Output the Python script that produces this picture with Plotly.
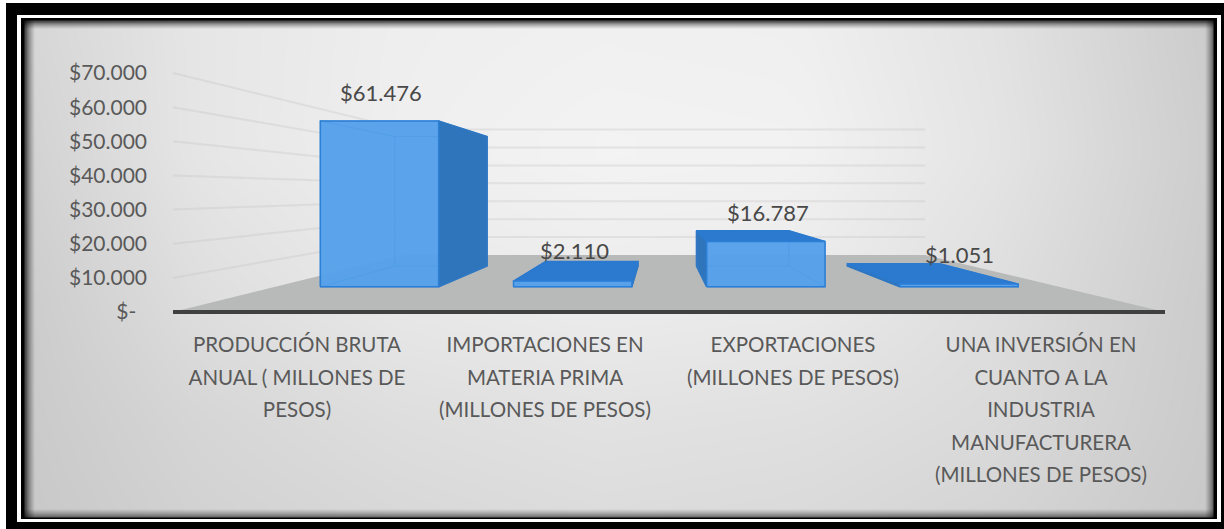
import numpy as np
import plotly.graph_objects as go

# Chart content
categories = [
    ["PRODUCCIÓN BRUTA", "ANUAL ( MILLONES DE", "PESOS)"],
    ["IMPORTACIONES EN", "MATERIA PRIMA", "(MILLONES DE PESOS)"],
    ["EXPORTACIONES", "(MILLONES DE PESOS)"],
    ["UNA INVERSIÓN EN", "CUANTO A LA", "INDUSTRIA", "MANUFACTURERA", "(MILLONES DE PESOS)"],
]
values = [61476, 2110, 16787, 1051]
y_ticks = [0, 10000, 20000, 30000, 40000, 50000, 60000, 70000]

W, H = 1224, 529
FONT = "Lato"


def money(v):
    return "$" + f"{v:,}".replace(",", ".")


# Axis scales: one category slot is 248 px, 10.000 pesos are 34.14 px on the front plane
PX_PER_CAT = 248.0
PX_PER_VAL = 0.003414
X0_PX, Y0_PX = 297.0, 312.0
x_range = [(0 - X0_PX) / PX_PER_CAT, (W - X0_PX) / PX_PER_CAT]
y_range = [(Y0_PX - H) / PX_PER_VAL, Y0_PX / PX_PER_VAL]


def xpx(p):
    return (np.asarray(p, dtype=float) - X0_PX) / PX_PER_CAT


def ypx(p):
    return (Y0_PX - np.asarray(p, dtype=float)) / PX_PER_VAL


# Perspective of the 3-D box: everything recedes to one vanishing point
VX, VV = float(xpx(660)), float(ypx(192))
S_FLOOR_BACK = 0.525
S_BAR_FRONT, S_BAR_BACK = 0.79, 0.617
BAR_START, BAR_STEP, BAR_HALF = 0.032, 0.986, 0.302


def proj(x, v, s):
    return VX + (x - VX) * s, VV + (v - VV) * s


def poly(points):
    xs = [p[0] for p in points] + [points[0][0]]
    ys = [p[1] for p in points] + [points[0][1]]
    return xs, ys


class Faces:
    """Collects polygons that share one fill, separated by gaps."""

    def __init__(self):
        self.x, self.y = [], []

    def add(self, points):
        xs, ys = poly(points)
        self.x += xs + [None]
        self.y += ys + [None]


fig = go.Figure()

# Panel background: soft grey gradient with a dark inner shadow along the edges
grid_x = [25, 200, 400, 600, 800, 1000, 1213]
grid_y = [21, 150, 300, 420, 517]
grid_grey = [
    [0xd6, 0xe6, 0xee, 0xf0, 0xef, 0xe2, 0xcb],
    [0xd2, 0xe6, 0xef, 0xf3, 0xf2, 0xe4, 0xcd],
    [0xcc, 0xde, 0xe8, 0xec, 0xea, 0xde, 0xcb],
    [0xca, 0xd6, 0xde, 0xe2, 0xe0, 0xda, 0xca],
    [0xc8, 0xd2, 0xd8, 0xdc, 0xda, 0xd4, 0xc8],
]
px_x = np.unique(np.concatenate([np.arange(25, 40, 1.0), np.linspace(40, 1198, 40), np.arange(1199, 1214, 1.0)]))
px_y = np.unique(np.concatenate([np.arange(21, 34, 1.0), np.linspace(34, 504, 24), np.arange(505, 518, 1.0)]))
base = np.array([[np.interp(x, grid_x, row) for x in px_x] for row in grid_grey])
base = np.array([[np.interp(y, grid_y, base[:, j]) for j in range(len(px_x))] for y in px_y])


def shade(dist, span):
    return 0.35 + 0.65 * np.clip(dist / span, 0, 1) ** 0.7


edge_x = shade(px_x - 25, 9) * shade(1213 - px_x, 9)
edge_y = shade(px_y - 21, 7) * shade(517 - px_y, 9)
fig.add_trace(go.Heatmap(
    x=xpx(px_x), y=ypx(px_y), z=base * np.outer(edge_y, edge_x),
    zmin=0, zmax=255, colorscale=[[0, "rgb(0,0,0)"], [1, "rgb(255,255,255)"]],
    zsmooth="best", showscale=False, hoverinfo="skip",
))

# Floor of the 3-D box
fx, fy = poly([proj(-0.5, 0, 1), proj(3.5, 0, 1), proj(3.5, 0, S_FLOOR_BACK), proj(-0.5, 0, S_FLOOR_BACK)])
fig.add_trace(go.Scatter(x=fx, y=fy, mode="lines", fill="toself", fillcolor="#b8b9b9",
                         line=dict(width=0), hoverinfo="skip", showlegend=False))

# Wall gridlines, running along the left wall and then across the back wall
gx, gy = [], []
for t in y_ticks[1:]:
    a = proj(-0.5, t, 1)
    b = proj(-0.5, t, S_FLOOR_BACK)
    c = proj(3.5, t, S_FLOOR_BACK)
    gx += [a[0], b[0], c[0], None]
    gy += [a[1], b[1], c[1], None]
fig.add_trace(go.Scatter(x=gx, y=gy, mode="lines", line=dict(color="rgba(196,188,188,0.3)", width=2),
                         hoverinfo="skip", showlegend=False))

# Front edge of the floor
fig.add_trace(go.Scatter(x=[-0.5, 3.5], y=[0, 0], mode="lines", line=dict(color="#404040", width=4),
                         hoverinfo="skip", showlegend=False))

# Bars as translucent boxes
inner, side, top, front = Faces(), Faces(), Faces(), Faces()
label_anchor = []
for i, v in enumerate(values):
    c = BAR_START + i * BAR_STEP
    x0, x1 = c - BAR_HALF, c + BAR_HALF
    f, b = S_BAR_FRONT, S_BAR_BACK
    inner.add([proj(x0, 0, b), proj(x1, 0, b), proj(x1, v, b), proj(x0, v, b)])
    inner.add([proj(x0, 0, f), proj(x1, 0, f), proj(x1, 0, b), proj(x0, 0, b)])
    left_face = [proj(x0, 0, f), proj(x0, 0, b), proj(x0, v, b), proj(x0, v, f)]
    right_face = [proj(x1, 0, f), proj(x1, 0, b), proj(x1, v, b), proj(x1, v, f)]
    top_face = [proj(x0, v, f), proj(x1, v, f), proj(x1, v, b), proj(x0, v, b)]
    if x1 < VX:
        side.add(right_face)
        inner.add(left_face)
    else:
        side.add(left_face)
        inner.add(right_face)
    if v < VV:
        top.add(top_face)
    else:
        inner.add(top_face)
    front.add([proj(x0, 0, f), proj(x1, 0, f), proj(x1, v, f), proj(x0, v, f)])
    label_anchor.append(proj(c, v, 0.7))

for faces, fill, edge, width in [
    (inner, "rgba(70,150,230,0.30)", "rgba(44,120,200,0.75)", 1),
    (side, "#2f75bb", "#2f78c4", 1.5),
    (top, "#2b7ad0", "#2b7ad0", 1.5),
    (front, "rgba(84,160,235,0.93)", "#2c7fd6", 1.5),
]:
    fig.add_trace(go.Scatter(x=faces.x, y=faces.y, mode="lines", fill="toself", fillcolor=fill,
                             line=dict(color=edge, width=width), hoverinfo="skip", showlegend=False))

# Value labels sit above each bar
label_shift = [(-30, -37), (-8, -20), (14, -23), (35, -19)]
annotations = [
    dict(x=a[0], y=a[1], text=money(v), showarrow=False, xanchor="center", yanchor="middle",
         xshift=s[0], yshift=-s[1], font=dict(family=FONT, size=22, color="#484848"))
    for a, v, s in zip(label_anchor, values, label_shift)
]


# Nested rectangles of the picture frame, in paper coordinates
def frame(x0, y0, x1, y1, color):
    return dict(type="rect", xref="paper", yref="paper", layer="below",
                x0=x0 / W, x1=x1 / W, y0=1 - y0 / H, y1=1 - y1 / H,
                fillcolor=color, line=dict(width=0))


shapes = [
    frame(6, 3, W, H, "#000000"),
    frame(17, 15, 1221, 522, "#ffffff"),
    frame(21, 18, 1217, 519, "#000000"),
]


def tick_label(lines):
    return "<br>".join(f"<span style='font-size:20.5px'>{ln}</span>" for ln in lines)


fig.update_layout(
    width=W, height=H, margin=dict(l=0, r=0, t=0, b=0), autosize=False,
    paper_bgcolor="#ffffff", plot_bgcolor="#ffffff", showlegend=False,
    font=dict(family=FONT), shapes=shapes, annotations=annotations,
    xaxis=dict(
        domain=[0, 1], range=x_range, anchor="free", position=1 - 326 / H,
        tickmode="array", tickvals=[0, 1, 2, 3], ticktext=[tick_label(c) for c in categories],
        tickangle=0, ticks="", showgrid=False, zeroline=False, showline=False,
        tickfont=dict(family=FONT, size=25, color="#595959"),
    ),
    yaxis=dict(
        domain=[0, 1], range=y_range, anchor="free", position=147 / W,
        tickmode="array", tickvals=y_ticks,
        ticktext=["$-\u00a0\u00a0" if t == 0 else money(t) for t in y_ticks],
        ticks="", showgrid=False, zeroline=False, showline=False,
        tickfont=dict(family=FONT, size=21, color="#595959"),
    ),
)

fig.write_html("out.html")
